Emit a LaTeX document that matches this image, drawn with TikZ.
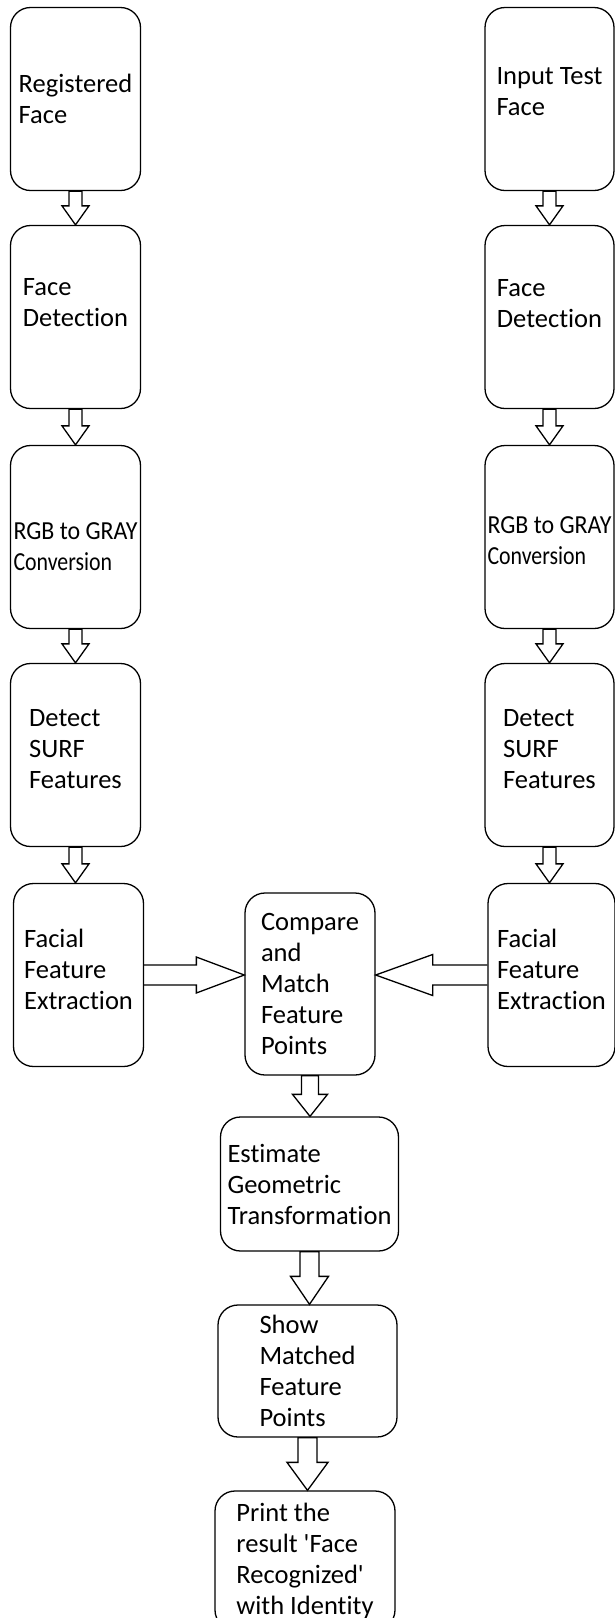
\documentclass[tikz,border=0pt]{standalone}
\usepackage{fontspec}
\setmainfont{Carlito}[Ligatures={TeX,NoCommon}]
\newfontfamily\narrowfont[FakeStretch=0.84, Ligatures={TeX,NoCommon}]{Carlito}
\newfontfamily\rgbfont[FakeStretch=0.92, Ligatures={TeX,NoCommon}]{Carlito}
\usetikzlibrary{calc}
\tikzstyle{block} = [draw, line width=1.3pt, rounded corners=20pt, inner sep=0pt, align=left, font=\fontsize{26.5}{31}\selectfont]
\tikzstyle{tall} = [block, minimum width=130pt, minimum height=183pt]
\tikzstyle{narrow} = [font=\narrowfont\fontsize{26}{31}\selectfont]
\tikzstyle{fat} = [draw, line width=1.3pt, line join=miter]

% struts to move the text off the middle of its box
\newcommand{\lift}[1]{\rule[-#1]{0pt}{#1}}
\newcommand{\sink}[1]{\rule{0pt}{#1}}
\newcommand{\rgb}{{\rgbfont RGB to GRAY}}
% hollow block arrow pointing down: from, to, shaft half width, head half width, head length
\newcommand{\vfat}[5]{%
  \path [fat] let \p1 = (#1), \p2 = (#2) in
    (\x1-#3pt, \y1) -- (\x1-#3pt, \y2+#5pt) -- (\x1-#4pt, \y2+#5pt) -- (\x1, \y2)
    -- (\x1+#4pt, \y2+#5pt) -- (\x1+#3pt, \y2+#5pt) -- (\x1+#3pt, \y1) -- cycle;}
% hollow block arrow sideways (head length is signed)
\newcommand{\hfat}[5]{%
  \path [fat] let \p1 = (#1), \p2 = (#2), \n1 = {\x2-(#5pt)} in
    (\x1, \y1+#3pt) -- (\n1, \y1+#3pt) -- (\n1, \y1+#4pt) -- (\x2, \y1)
    -- (\n1, \y1-#4pt) -- (\n1, \y1-#3pt) -- (\x1, \y1-#3pt);}

\begin{document}
\begin{tikzpicture}[x=1pt, y=-1pt]
    \useasboundingbox (0, 0) rectangle (615, 1618);
    % Registered face column.
    \node [tall] (reg)     at (75.5,  99) {Registered\\Face};
    \node [tall] (regdet)  at (75.5, 317) {Face\\Detection\lift{30pt}};
    \node [tall, narrow] (reggray) at (75.5, 537) {\sink{36pt}\rgb\\Conversion};
    \node [tall] (regsurf) at (75.5, 755) {Detect\\SURF\\Features\lift{12pt}};
    \node [tall] (regfeat) at (78.5, 975) {Facial\\Feature\\Extraction\lift{12pt}};
    % Test face column.
    \node [tall, minimum width=129pt] (test)     at (549.5,  99) {Input Test\\Face\lift{16pt}};
    \node [tall, minimum width=129pt] (testdet)  at (549.5, 317) {Face\\Detection\lift{27pt}};
    \node [tall, minimum width=129pt, narrow] (testgray) at (549.5, 537) {\sink{25pt}\rgb\\Conversion};
    \node [tall, minimum width=129pt] (testsurf) at (549.5, 755) {Detect\\SURF\\Features\lift{12pt}};
    \node [tall, minimum width=127pt] (testfeat) at (551.5, 975) {Facial\\Feature\\Extraction\lift{12pt}};
    % Matching steps.
    \node [tall, minimum height=182pt] (match) at (310, 984) {Compare\\and\\Match\\Feature\\Points};
    \node [block, minimum width=178pt, minimum height=134pt] (geom)   at (309.5, 1184) {Estimate\\Geometric\\Transformation};
    \node [block, minimum width=179pt, minimum height=132pt] (shown)  at (307.5, 1371) {Show\\Matched\\Feature\\Points};
    \node [block, minimum width=180pt, minimum height=139pt] (result) at (305, 1560.5) {Print the\\result \textquotesingle Face\\Recognized\textquotesingle\\with Identity};
    % Column arrows.
    \vfat{reg.south}{regdet.north}{6.5}{13.5}{19}
    \vfat{regdet.south}{reggray.north}{6.5}{13.5}{19}
    \vfat{reggray.south}{regsurf.north}{6.5}{13.5}{19}
    \vfat{regsurf.south}{regfeat.north}{6.5}{13.5}{19}
    \vfat{test.south}{testdet.north}{6.5}{13.5}{19}
    \vfat{testdet.south}{testgray.north}{6.5}{13.5}{19}
    \vfat{testgray.south}{testsurf.north}{6.5}{13.5}{19}
    \vfat{testsurf.south}{testfeat.north}{6.5}{13.5}{19}
    % Features -> Compare.
    \hfat{regfeat.east}{match.west}{10}{18}{48}
    \hfat{testfeat.west}{match.east}{10}{20.5}{-57}
    % Compare -> result.
    \vfat{match.south}{geom.north}{8.5}{17.5}{22}
    \vfat{geom.south}{shown.north}{9.5}{19}{28}
    \vfat{shown.south}{result.north}{9.5}{20.5}{28}
\end{tikzpicture}
\end{document}
